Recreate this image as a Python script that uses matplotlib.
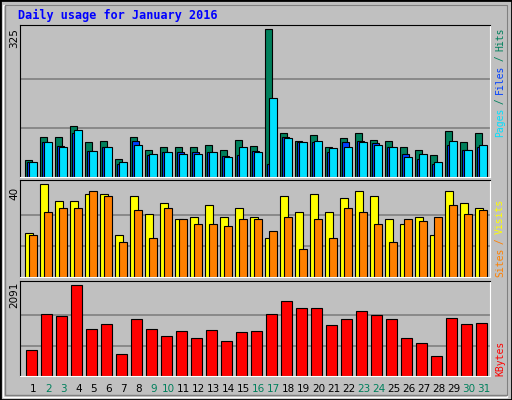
import matplotlib
matplotlib.use('Agg')
import matplotlib.pyplot as plt
from matplotlib.patches import Rectangle

days = list(range(1, 32))
weekend = [2, 3, 9, 10, 16, 17, 23, 24, 30, 31]

hits = [38, 87, 89, 113, 76, 80, 40, 87, 60, 67, 67, 65, 71, 60, 82, 69, 325,
        96, 80, 93, 67, 85, 96, 82, 80, 65, 60, 49, 102, 76, 96]
files = [34, 78, 69, 96, 58, 65, 29, 80, 49, 54, 56, 54, 56, 47, 49, 58, 29,
         87, 76, 78, 56, 76, 80, 74, 65, 51, 40, 29, 71, 60, 65]
pages = [34, 78, 67, 104, 58, 65, 32, 71, 51, 54, 51, 51, 56, 45, 67, 54, 173,
         85, 76, 80, 63, 67, 76, 71, 65, 43, 51, 32, 80, 60, 71]
visits = [19, 40, 33, 33, 36, 36, 18, 35, 27, 32, 25, 26, 31, 26, 30, 26, 17,
          35, 28, 36, 28, 34, 37, 35, 25, 23, 26, 18, 37, 32, 30]
sites = [18, 28, 30, 30, 37, 35, 15, 29, 17, 30, 25, 23, 23, 22, 25, 25, 20,
         26, 12, 25, 17, 30, 28, 23, 15, 25, 24, 26, 31, 27, 29]
kbytes = [585, 1429, 1361, 2091, 1064, 1179, 494, 1315, 1064, 905, 1019, 859,
          1042, 791, 996, 1019, 1429, 1726, 1544, 1566, 1156, 1315, 1498, 1384,
          1293, 859, 745, 449, 1338, 1179, 1201]

W, H = 512, 400
BG = '#c0c0c0'
fig = plt.figure(figsize=(W / 100, H / 100), dpi=100, facecolor=BG)

# bevelled outer border
fig.patches.append(Rectangle((0, 0), 1, 1, transform=fig.transFigure,
                             fill=False, edgecolor='black', lw=2))
fig.patches.append(Rectangle((3 / W, 3 / H), 1 - 8 / W, 1 - 8 / H,
                             transform=fig.transFigure, fill=False,
                             edgecolor='white', lw=1))
fig.patches.append(Rectangle((5 / W, 5 / H), 1 - 10 / W, 1 - 10 / H,
                             transform=fig.transFigure, fill=False,
                             edgecolor='#808080', lw=1))


def panel(top, bottom):
    ax = fig.add_axes([20 / W, 1 - bottom / H, 470 / W, (bottom - top) / H])
    ax.set_facecolor(BG)
    ax.set_xlim(0, 470 / 15)
    ax.set_xticks([])
    ax.set_yticks([])
    for s in ['top', 'left']:
        ax.spines[s].set_color('black')
    for s in ['bottom', 'right']:
        ax.spines[s].set_color('white')
    return ax


def grid(ax, vmax):
    for f in (1 / 3, 2 / 3):
        ax.axhline(vmax * f, color='#808080', lw=1.2, zorder=0)


x0 = [d - 1 for d in days]
kw = dict(align='edge', edgecolor='black', linewidth=0.8)

ax1 = panel(25, 177)
ax1.set_ylim(0, 334.5)
grid(ax1, 325)
ax1.bar([x + 5 / 15 for x in x0], hits, width=7.3 / 15, color='#00805c', **kw)
ax1.bar([x + 7.3 / 15 for x in x0], files, width=7 / 15, color='#0040ff', **kw)
ax1.bar([x + 9.3 / 15 for x in x0], pages, width=7.4 / 15, color='#00e0ff', **kw)

ax2 = panel(180, 277)
ax2.set_ylim(0, 41.9)
grid(ax2, 40)
ax2.bar([x + 5.3 / 15 for x in x0], visits, width=8 / 15, color='#ffff00', **kw)
ax2.bar([x + 9.3 / 15 for x in x0], sites, width=7.4 / 15, color='#ff8000', **kw)

ax3 = panel(281, 376)
ax3.set_ylim(0, 2173)
grid(ax3, 2091)
ax3.bar([x + 6 / 15 for x in x0], kbytes, width=10.7 / 15, color='#ff0000', **kw)

fig.text(18 / W, 1 - 15 / H, 'Daily usage for January 2016', color='#0000ff',
         family='DejaVu Sans Mono', weight='bold', fontsize=8.5, va='center')

for d in days:
    fig.text((20 + 15 * (d - 1) + 13.5) / W, 1 - 389 / H, str(d),
             ha='center', va='center', fontsize=7.5,
             color='#00805c' if d in weekend else 'black')

fig.text(14 / W, 1 - 38 / H, '325', rotation=90, ha='center', va='center', fontsize=7.5)
fig.text(14 / W, 1 - 193 / H, '40', rotation=90, ha='center', va='center', fontsize=7.5)
fig.text(14 / W, 1 - 295 / H, '2091', rotation=90, ha='center', va='center', fontsize=7.5)


def right_label(parts, y_bottom):
    y = y_bottom
    for txt, col in parts:
        fig.text(500 / W, y / H, txt, rotation=90, color=col, ha='center',
                 va='bottom', family='DejaVu Sans Mono', fontsize=7)
        y += len(txt) * 5.4


right_label([('Pages', '#00e0ff'), (' / ', '#00805c'), ('Files', '#0040ff'),
             (' / ', '#00805c'), ('Hits', '#00805c')], H - 137)
right_label([('Sites', '#ff8000'), (' / ', '#ff8000'), ('Visits', '#ffff00')], H - 277)
right_label([('KBytes', '#ff0000')], H - 376)

fig.savefig('out.png', dpi=100, facecolor=BG)
